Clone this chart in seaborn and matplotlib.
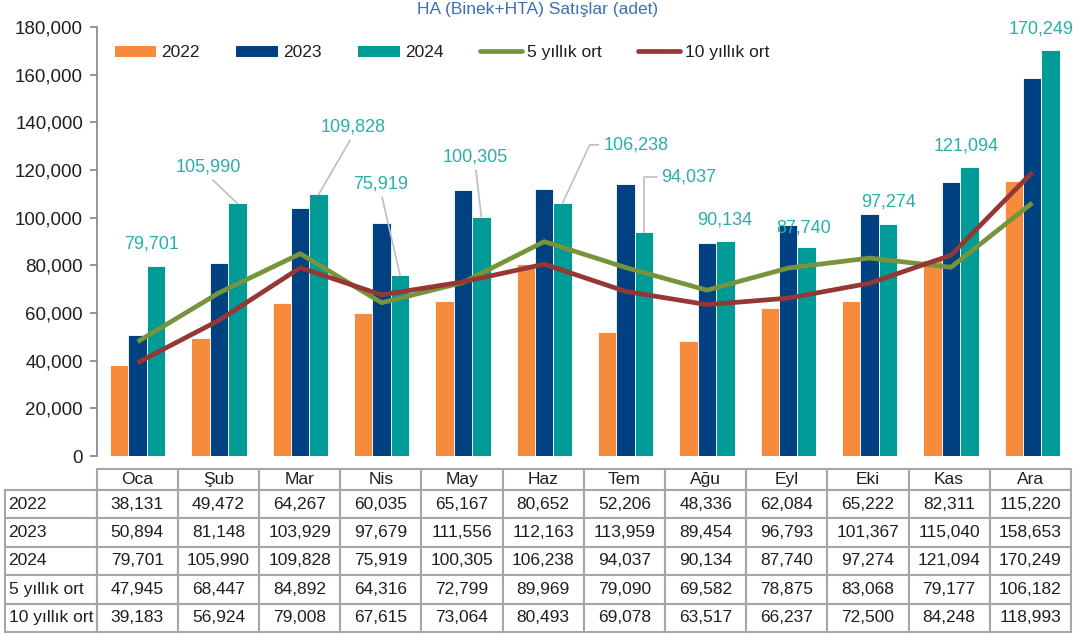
import numpy as np
import pandas as pd
import seaborn as sns
import matplotlib.pyplot as plt
from matplotlib.patches import Patch
from matplotlib.lines import Line2D
from matplotlib.ticker import FuncFormatter

# Data
months = ['Oca', 'Şub', 'Mar', 'Nis', 'May', 'Haz', 'Tem', 'Ağu', 'Eyl', 'Eki', 'Kas', 'Ara']
sales_2022 = [38131, 49472, 64267, 60035, 65167, 80652, 52206, 48336, 62084, 65222, 82311, 115220]
sales_2023 = [50894, 81148, 103929, 97679, 111556, 112163, 113959, 89454, 96793, 101367, 115040, 158653]
sales_2024 = [79701, 105990, 109828, 75919, 100305, 106238, 94037, 90134, 87740, 97274, 121094, 170249]
avg_5y = [47945, 68447, 84892, 64316, 72799, 89969, 79090, 69582, 78875, 83068, 79177, 106182]
avg_10y = [39183, 56924, 79008, 67615, 73064, 80493, 69078, 63517, 66237, 72500, 84248, 118993]

series_names = ['2022', '2023', '2024']
line_names = ['5 yıllık ort', '10 yıllık ort']

# Colours
bar_colors = {'2022': '#F68B3C', '2023': '#004281', '2024': '#009B97'}
line_colors = ['#77933C', '#953735']
label_color = '#2AAEA8'
grid_color = '#A6A6A6'
text_color = '#1F1F1F'

# 2024 label offsets (pixels from bar top) and leader style
label_offsets = [(-4, 22), (-29, 36), (34, 67), (-19, 91), (-6, 60), (73, 58),
                 (45, 55), (-1, 21), (-3, 19), (0, 22), (-3, 21), (-10, 21)]
leaders = [None, 'line', 'line', 'line', 'line', 'angle65', 'angle90',
           None, None, None, None, None]

sns.set_theme(style='white')
plt.rcParams['font.family'] = ['Liberation Sans', 'DejaVu Sans']
plt.rcParams['text.color'] = text_color

# Long form frame for the bars
df = pd.DataFrame({
    'month': months * 3,
    'year': [y for y in series_names for _ in months],
    'value': sales_2022 + sales_2023 + sales_2024,
})

fig = plt.figure(figsize=(10.82, 6.36), dpi=100)
ax = fig.add_axes([0.0896, 0.283, 0.902, 0.6745])

sns.barplot(data=df, x='month', y='value', hue='year', order=months,
            hue_order=series_names, palette=bar_colors, width=0.68, gap=0,
            saturation=1, errorbar=None, edgecolor='white', linewidth=0.6,
            legend=False, ax=ax)

x_pos = np.arange(len(months))
for vals, col in zip([avg_5y, avg_10y], line_colors):
    sns.lineplot(x=x_pos, y=vals, color=col, linewidth=3.4, sort=False,
                 ax=ax, zorder=4, solid_joinstyle='round', solid_capstyle='butt')

ax.set_ylim(0, 180000)
ax.set_xlim(-0.5, len(months) - 0.5)
ax.set_yticks(range(0, 180001, 20000))
ax.yaxis.set_major_formatter(FuncFormatter(lambda v, p: f"{int(v):,}"))
ax.tick_params(axis='y', direction='out', length=5, width=1.3, color='#8C8C8C',
               labelsize=13.5, labelcolor=text_color, pad=5, left=True)
ax.set_xticks([])
ax.set_xlabel('')
ax.set_ylabel('')
for s in ['top', 'right', 'bottom']:
    ax.spines[s].set_visible(False)
ax.spines['left'].set_color('#8C8C8C')
ax.spines['left'].set_linewidth(1.3)

# 2024 value labels
teal_bars = ax.containers[2]
for bar, val, (dx, dy), kind in zip(teal_bars, sales_2024, label_offsets, leaders):
    bx = bar.get_x() + bar.get_width() / 2
    by = bar.get_height()
    arrow = None
    if kind == 'line':
        arrow = dict(arrowstyle='-', color='#BFBFBF', lw=1.2, shrinkA=1, shrinkB=0,
                     relpos=(0.5, 0))
    elif kind == 'angle65':
        arrow = dict(arrowstyle='-', color='#BFBFBF', lw=1.2, shrinkA=1, shrinkB=0,
                     relpos=(0, 0.5), connectionstyle='angle,angleA=0,angleB=65,rad=0')
    elif kind == 'angle90':
        arrow = dict(arrowstyle='-', color='#BFBFBF', lw=1.2, shrinkA=1, shrinkB=0,
                     relpos=(0, 0.5), connectionstyle='angle,angleA=0,angleB=90,rad=0')
    ax.annotate(f"{val:,}", xy=(bx, by), xytext=(dx, dy), textcoords='offset pixels',
                ha='center', va='center', fontsize=13, color=label_color,
                arrowprops=arrow, zorder=6, annotation_clip=False)

# Legend
handles = [Patch(facecolor=bar_colors[n], edgecolor='none') for n in series_names]
handles += [Line2D([0], [0], color=c, lw=3.4) for c in line_colors]
ax.legend(handles, series_names + line_names, loc='center left',
          bbox_to_anchor=(0.018, 0.94), ncol=5, frameon=False, fontsize=12.5,
          handlelength=2.4, handleheight=0.6, handletextpad=0.3,
          columnspacing=2.1, borderpad=0, borderaxespad=0)

# Title
fig.text(0.497, 0.985, 'HA (Binek+HTA) Satışlar (adet)', ha='center', va='center',
         color='#3A70B5', fontsize=12.5)

# Data table under the chart
rows = [series_names[0], series_names[1], series_names[2]] + line_names
row_vals = [sales_2022, sales_2023, sales_2024, avg_5y, avg_10y]
body = [[name] + [f"{v:,}" for v in vals] for name, vals in zip(rows, row_vals)]
col_w = [92] + [81.3] * len(months)
col_w = [w / sum(col_w) for w in col_w]

tab = ax.table(cellText=body, colLabels=[''] + months, colWidths=col_w,
               cellLoc='center', bbox=[-0.0943, -0.410, 1.0922, 0.380])
tab.auto_set_font_size(False)
tab.set_fontsize(12.5)
for (r, c), cell in tab.get_celld().items():
    cell.set_edgecolor(grid_color)
    cell.set_linewidth(1.5)
    cell.get_text().set_color(text_color)
    cell.set_height(21 if r == 0 else 28.3)
    if r == 0 and c == 0:
        cell.visible_edges = ''
    if c == 0 and r > 0:
        cell._loc = 'left'
        cell.PAD = 0.04
        cell.get_text().set_horizontalalignment('left')

fig.savefig('out.png', dpi=100)
